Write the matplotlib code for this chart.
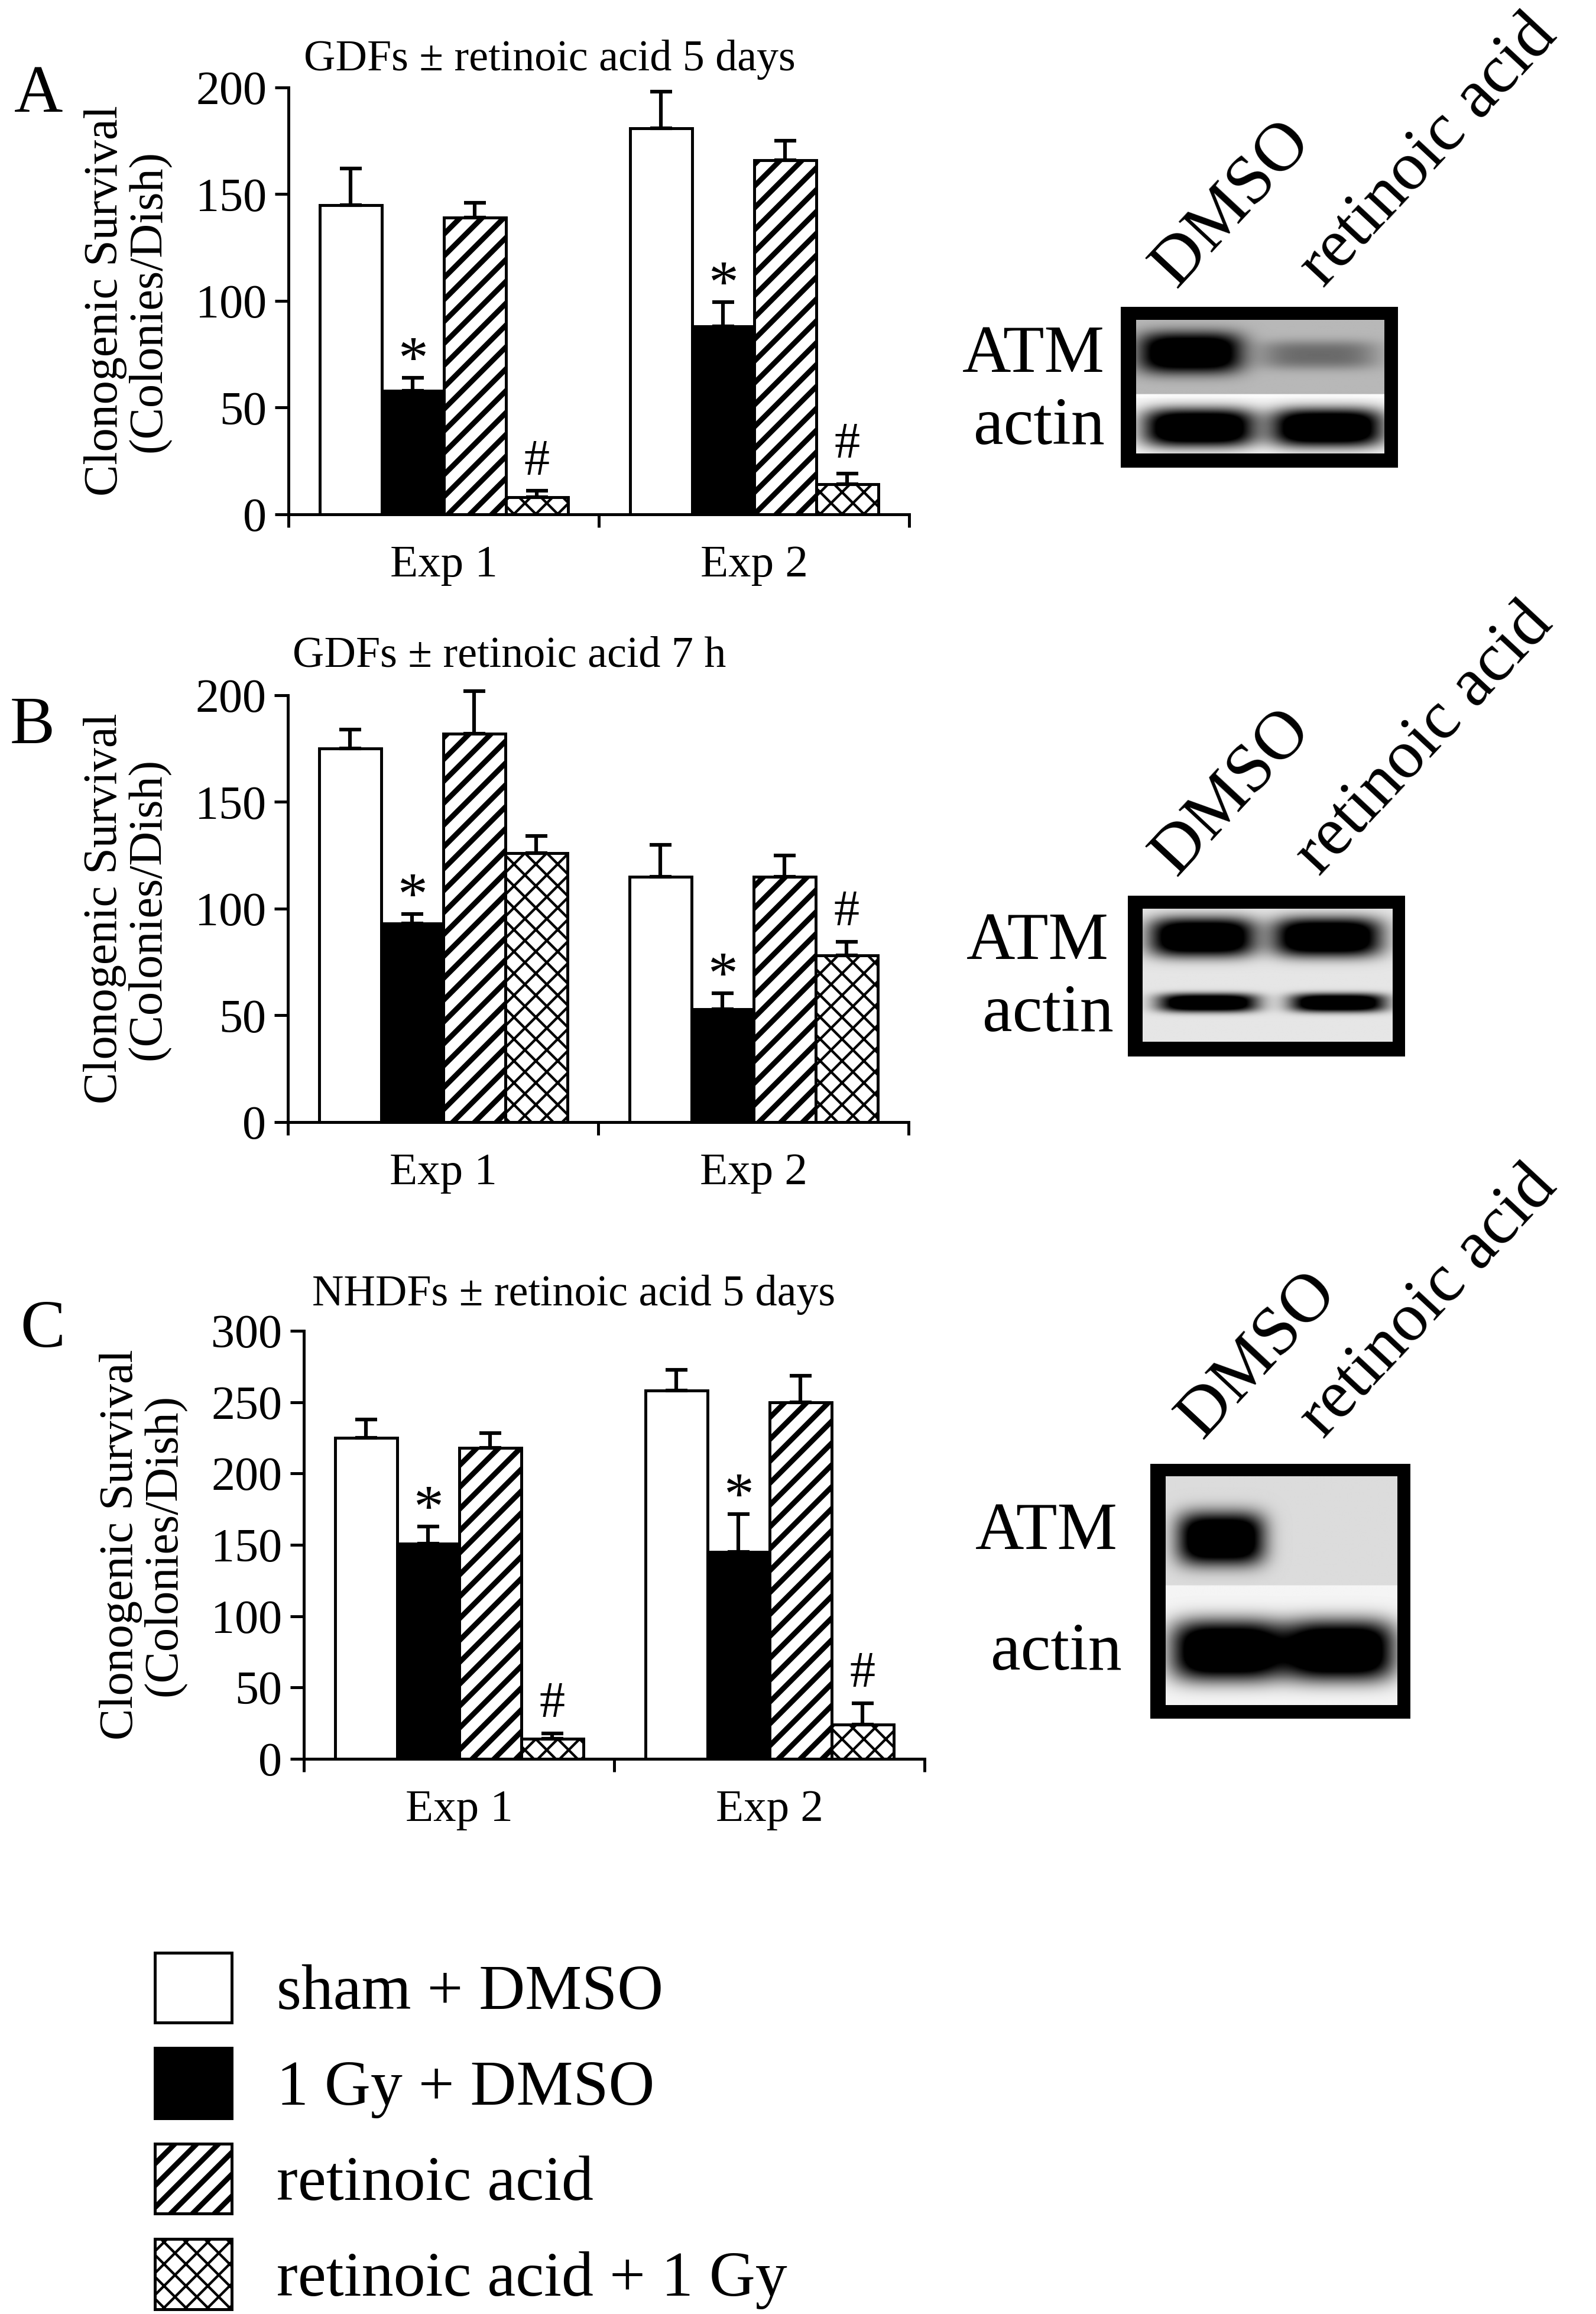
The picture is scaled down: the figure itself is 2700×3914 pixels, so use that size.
import numpy as np
import matplotlib
matplotlib.use('Agg')
import matplotlib.pyplot as plt
from matplotlib.patches import Rectangle

plt.rcParams['font.family'] = ['Liberation Serif', 'DejaVu Serif']
plt.rcParams['hatch.color'] = 'black'

# ---- data ----
groups = ['Exp 1', 'Exp 2']
treatments = ['sham + DMSO', '1 Gy + DMSO', 'retinoic acid', 'retinoic acid + 1 Gy']

# panel A: GDFs +/- retinoic acid 5 days (rows = treatments, cols = Exp 1, Exp 2)
a_mean = [[145, 181], [58, 88], [139, 166], [8, 14]]
a_err = [[17, 17], [6, 11.5], [7, 9], [3, 5]]
a_marks = [['', ''], ['*', '*'], ['', ''], ['#', '#']]

# panel B: GDFs +/- retinoic acid 7 h
b_mean = [[175, 115], [93, 53], [182, 115], [126, 78]]
b_err = [[9, 15], [4.5, 7.5], [20, 10], [8, 6.5]]
b_marks = [['', ''], ['*', '*'], ['', ''], ['', '#']]

# panel C: NHDFs +/- retinoic acid 5 days
c_mean = [[225, 258], [151, 145], [218, 250], [14, 24]]
c_err = [[13, 14.5], [12, 26.5], [10.5, 18.5], [4, 15]]
c_marks = [['', ''], ['*', '*'], ['', ''], ['#', '#']]

# western blot band strength per lane (DMSO, retinoic acid)
blot_lanes = ['DMSO', 'retinoic acid']
a_atm = [1.0, 0.3]
a_actin = [1.0, 1.0]
b_atm = [1.0, 1.0]
b_actin = [1.0, 1.0]
c_atm = [1.0, 0.0]
c_actin = [1.0, 1.0]

# ---- figure ----
DPI = 222
W, H = 2700, 3914
fig = plt.figure(figsize=(W / DPI + 1e-4, H / DPI + 1e-4), dpi=DPI)


def px_box(x0, y0, x1, y1):
    return [x0 / W, 1 - y1 / H, (x1 - x0) / W, (y1 - y0) / H]


faces = ['white', 'black', 'white', 'white']
hatches = [None, None, '//', 'xx']
hatch_lw = [1.0, 1.0, 2.9, 1.4]


def hatch_width(p, lw):
    # hatch linewidth is a global rc value in older matplotlib; set it per patch at draw time
    if hasattr(p, 'set_hatch_linewidth'):
        p.set_hatch_linewidth(lw)
    orig = p.draw

    def draw(renderer):
        with plt.rc_context({'hatch.linewidth': lw}):
            orig(renderer)
    p.draw = draw


def bar_panel(box, mean, err, marks, ymax, title, title_xy, letter, letter_xy):
    ax = fig.add_axes(px_box(*box))
    x = np.arange(len(groups)) * 5
    containers = []
    for i, lab in enumerate(treatments):
        bc = ax.bar(x + 1 + i, mean[i], width=1.0, color=faces[i],
                    edgecolor='black', linewidth=1.6, hatch=hatches[i],
                    label=lab, zorder=2)
        for p in bc:
            hatch_width(p, hatch_lw[i])
        containers.append(bc)
        eb = ax.errorbar(x + 1 + i, mean[i], yerr=[np.zeros(len(groups)), err[i]],
                         fmt='none', ecolor='black', elinewidth=2.0, capsize=6,
                         capthick=2.0, zorder=3)
        for art in eb.lines[1] + eb.lines[2]:
            art.set_clip_on(False)
        for j in range(len(groups)):
            m = marks[i][j]
            if m:
                off, fs = (0, 33) if m == '*' else (9, 28)
                ax.annotate(m, (x[j] + 1 + i, mean[i][j] + err[i][j]),
                            xytext=(0, off), textcoords='offset points',
                            ha='center', va='baseline', fontsize=fs)
    ax.set_xlim(0, 10)
    ax.set_ylim(0, ymax)
    ax.set_yticks(np.arange(0, ymax + 1, 50))
    ax.set_xticks([0, 5, 10])
    ax.set_xticklabels([])
    ax.set_xticks([2.5, 7.5], minor=True)
    ax.set_xticklabels(groups, minor=True)
    ax.tick_params(axis='y', labelsize=26, width=1.6, length=7.5, pad=4.5)
    ax.tick_params(axis='x', which='major', width=1.6, length=7)
    ax.tick_params(axis='x', which='minor', length=0, labelsize=25, pad=17)
    for s in ['top', 'right']:
        ax.spines[s].set_visible(False)
    for s in ['left', 'bottom']:
        ax.spines[s].set_linewidth(1.6)
    ax.text(-273 / 1050, 0.5, 'Clonogenic Survival\n(Colonies/Dish)',
            transform=ax.transAxes, rotation=90, ha='center', va='center',
            fontsize=26, linespacing=1.0, multialignment='center')
    fig.text(title_xy[0] / W, 1 - title_xy[1] / H, title, ha='center',
             va='center', fontsize=24)
    fig.text(letter_xy[0] / W, 1 - letter_xy[1] / H, letter, ha='center',
             va='center', fontsize=37)
    return containers


def band(xx, yy, x0, x1, y0, y1):
    cx, cy = (x0 + x1) / 2, (y0 + y1) / 2
    wx, wy = (x1 - x0) / 2, (y1 - y0) / 2
    return np.exp(-np.abs((xx - cx) / wx) ** 4) * np.exp(-np.abs((yy - cy) / wy) ** 3)


def blot(outer, inner, bg_rows, atm_boxes, atm_vals, actin_boxes, actin_vals,
         atm_lab, actin_lab, dmso_xy, ra_xy):
    x0, y0, x1, y1 = outer
    w, h = x1 - x0, y1 - y0
    bx = fig.add_axes(px_box(*outer))
    bx.set_xlim(0, w)
    bx.set_ylim(h, 0)
    bx.axis('off')
    bx.add_patch(Rectangle((0, 0), w, h, color='black', zorder=0))
    ix0, iy0, ix1, iy1 = inner
    xx, yy = np.meshgrid(np.arange(ix0, ix1) + 0.5, np.arange(iy0, iy1) + 0.5)
    bg = np.ones_like(xx)
    for r0, r1, lev in bg_rows:
        bg[(yy >= r0) & (yy < r1)] = lev
    dark = np.zeros_like(xx)
    for b, v in zip(atm_boxes, atm_vals):
        dark += 1.4 * v * band(xx, yy, *b)
    for b, v in zip(actin_boxes, actin_vals):
        dark += 1.4 * v * band(xx, yy, *b)
    img = bg * (1 - np.clip(dark, 0, 1))
    bx.imshow(img, cmap='gray', vmin=0, vmax=1, extent=(ix0, ix1, iy1, iy0),
              interpolation='bilinear', aspect='auto', zorder=1)
    fig.text(atm_lab[0] / W, 1 - atm_lab[1] / H, 'ATM', ha='right',
             va='baseline', fontsize=37)
    fig.text(actin_lab[0] / W, 1 - actin_lab[1] / H, 'actin', ha='right',
             va='baseline', fontsize=37)
    for lab, xy in zip(blot_lanes, [dmso_xy, ra_xy]):
        fig.text(xy[0] / W, 1 - xy[1] / H, lab, ha='left', va='baseline',
                 rotation=47, rotation_mode='anchor', fontsize=38)


cont = bar_panel((488, 148, 1538, 870), a_mean, a_err, a_marks, 200,
                 'GDFs \u00b1 retinoic acid 5 days', (930, 101), 'A', (65, 161))
bar_panel((487, 1176, 1537, 1898), b_mean, b_err, b_marks, 200,
          'GDFs \u00b1 retinoic acid 7 h', (862, 1110), 'B', (55, 1229))
bar_panel((514, 2251, 1564, 2975), c_mean, c_err, c_marks, 300,
          'NHDFs \u00b1 retinoic acid 5 days', (971, 2190), 'C', (72, 2250))

blot((1896, 519, 2365, 791), (26, 23, 445, 248),
     [(0, 148, 0.72), (148, 155, 0.99), (155, 300, 0.97)],
     [(30, 206, 44, 113), (234, 434, 58, 106)], a_atm,
     [(37, 228, 172, 237), (253, 444, 172, 237)], a_actin,
     (1869, 629), (1869, 751), (1990, 488), (2239, 488))

blot((1908, 1515, 2377, 1787), (25, 23, 447, 247),
     [(0, 300, 0.9)],
     [(36, 216, 38, 104), (245, 429, 38, 104)], b_atm,
     [(51, 220, 166, 197), (274, 436, 166, 197)], b_actin,
     (1876, 1622), (1884, 1744), (1990, 1483), (2232, 1483))

blot((1946, 2476, 2386, 2907), (26, 22, 417, 408),
     [(0, 206, 0.86), (206, 500, 0.96)],
     [(46, 193, 83, 172), (240, 400, 86, 169)], c_atm,
     [(35, 226, 265, 367), (225, 413, 265, 367)], c_actin,
     (1891, 2620), (1898, 2824), (2034, 2435), (2239, 2435))

leg = fig.legend(handles=cont, labels=treatments, loc='upper left',
                 bbox_to_anchor=(262 / W, 1 - 3303 / H), frameon=False,
                 fontsize=35, handlelength=1.2, handleheight=1.31,
                 labelspacing=0.40, handletextpad=0.71, borderpad=0,
                 borderaxespad=0)
for p, lw in zip(leg.get_patches(), hatch_lw):
    hatch_width(p, lw)

fig.savefig('out.png', dpi=DPI)
